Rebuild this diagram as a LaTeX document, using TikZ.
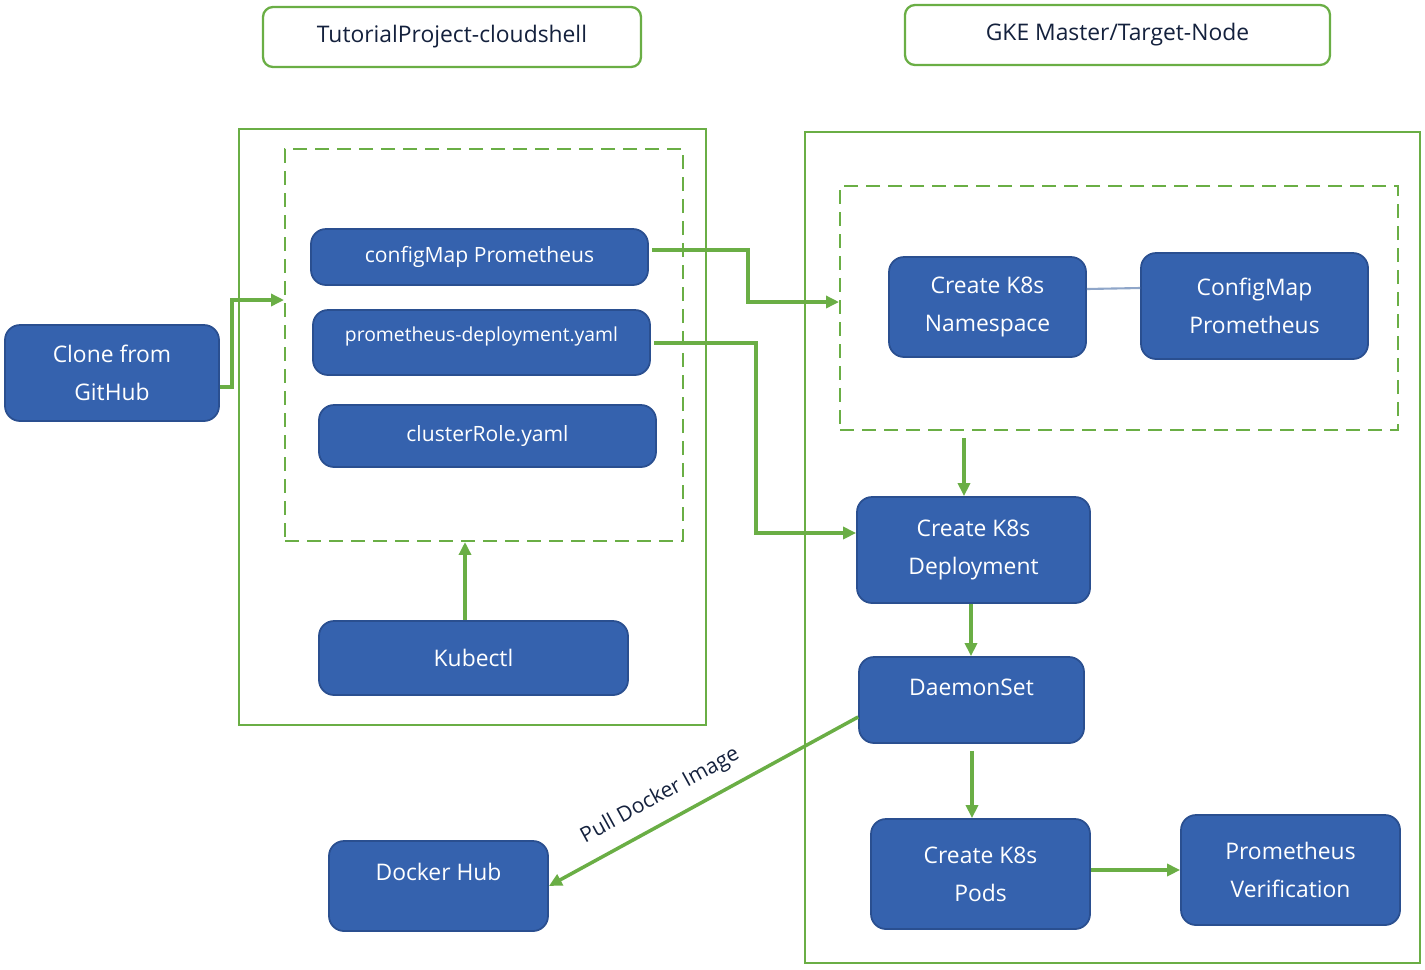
\documentclass[tikz,border=0pt]{standalone}
\usepackage{fontspec}
\setmainfont{Open Sans}
\usetikzlibrary{arrows.meta}
\definecolor{boxblue}{HTML}{3562AE}
\definecolor{boxedge}{HTML}{2A4F90}
\definecolor{linegreen}{HTML}{6AAE45}
\definecolor{linkgray}{HTML}{8FA6C9}
\definecolor{labelnavy}{HTML}{14213D}
\begin{document}
\begin{tikzpicture}[x=0.2mm,y=-0.2mm,
  task/.style={draw=boxedge,line width=1pt,fill=boxblue,rounded corners=3mm,text=white,
    align=center,inner sep=0pt,font=\fontsize{13}{21.6}\selectfont},
  filetask/.style={task,font=\fontsize{12}{14}\selectfont},
  headbox/.style={draw=linegreen,line width=1.3pt,fill=white,rounded corners=2mm,
    minimum height=12mm,inner sep=0pt,text=labelnavy,font=\fontsize{13}{15}\selectfont},
  frame/.style={draw=linegreen,line width=1.1pt,inner sep=0pt},
  dashframe/.style={frame,dash pattern=on 2.8mm off 1.6mm},
  flow/.style={draw=linegreen,line width=2pt,-{Triangle[length=2.6mm,width=2.4mm]}}]
\useasboundingbox (0,0) rectangle (1425,969);
\node[headbox,minimum width=75.6mm] (cloudshell) at (452,37) {TutorialProject-cloudshell};
\node[headbox,minimum width=85mm] (gke) at (1117.5,35) {GKE Master/Target-Node};
\node[frame,minimum width=93.4mm,minimum height=119.2mm] (leftframe) at (472.5,427) {};
\node[frame,minimum width=123mm,minimum height=166.2mm] (rightframe) at (1112.5,547.5) {};
\node[dashframe,minimum width=79.6mm,minimum height=78.4mm] (lbox) at (484,345) {};
\node[dashframe,minimum width=111.6mm,minimum height=48.8mm] (rbox) at (1119,308) {};
\node[task,minimum width=42.8mm,minimum height=19.2mm] (clone) at (112,373) {Clone from\\GitHub};
\node[filetask,minimum width=67.4mm,minimum height=11.2mm] (cfg) at (479.5,257) {configMap Prometheus};
\node[filetask,minimum width=67.4mm,minimum height=13mm,text depth=3.2mm,
  font=\fontsize{11}{13}\selectfont] (depl) at (481.5,342.5) {prometheus-deployment.yaml};
\node[filetask,minimum width=67.4mm,minimum height=12.4mm] (crole) at (487.5,436) {clusterRole.yaml};
\node[task,minimum width=61.8mm,minimum height=14.8mm] (kubectl) at (473.5,658) {Kubectl};
\node[task,minimum width=39.4mm,minimum height=20mm] (ns) at (987.5,307) {Create K8s\\Namespace};
\node[task,minimum width=45.4mm,minimum height=21.2mm] (cmap) at (1254.5,306) {ConfigMap\\Prometheus};
\node[task,minimum width=46.6mm,minimum height=21.2mm] (kdep) at (973.5,550) {Create K8s\\Deployment};
\node[task,minimum width=45mm,minimum height=17.2mm,text depth=5.2mm] (daemon) at (971.5,700) {DaemonSet};
\node[task,minimum width=43.8mm,minimum height=22mm] (pods) at (980.5,874) {Create K8s\\Pods};
\node[task,minimum width=43.8mm,minimum height=22mm] (verif) at (1290.5,870) {Prometheus\\Verification};
\node[task,minimum width=43.8mm,minimum height=18mm,text depth=5.8mm] (hub) at (438.5,886) {Docker Hub};
\draw[flow] (clone.east |- 0,387) -- (232,387) |- (lbox.west |- 0,300);
\draw[flow] (652,250) -- (748,250) |- (rbox.west |- 0,302);
\draw[flow] (654,343) -- (756,343) |- (kdep.west |- 0,533);
\draw[flow,shorten <=1.4mm] (964,0 |- rbox.south) -- (964,0 |- kdep.north);
\draw[flow] (kdep.south -| 971,0) -- (971,0 |- daemon.north);
\draw[flow,shorten <=1.4mm] (daemon.south -| 972,0) -- (972,0 |- pods.north);
\draw[flow] (pods.east |- 0,870) -- (verif.west |- 0,870);
\draw[flow] (kubectl.north -| 465,0) -- (465,0 |- lbox.south);
\draw[flow] (daemon.west |- 0,717) -- (hub.east)
  node[pos=0.6,sloped,above=1.5mm,text=labelnavy,font=\fontsize{12}{14}\selectfont] {Pull Docker Image};
\draw[linkgray,line width=1.2pt] (ns.east |- 0,289) -- (cmap.west |- 0,288);
\end{tikzpicture}
\end{document}
